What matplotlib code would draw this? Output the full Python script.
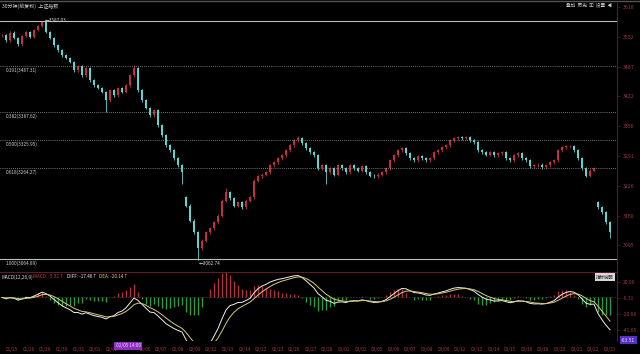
import numpy as np
import pandas as pd
import matplotlib
matplotlib.use('Agg')
import matplotlib.pyplot as plt

plt.rcParams['font.family'] = ['Noto Sans CJK SC', 'DejaVu Sans']

# closes (about one hour of trading per entry)
closes = [
    3556, 3545, 3561, 3550, 3536, 3554, 3563, 3552, 3567, 3576,
    3585, 3563, 3550, 3534, 3523, 3512, 3506, 3497, 3479, 3488,
    3468, 3484, 3457, 3446, 3440, 3431, 3413, 3435, 3424, 3440,
    3431, 3446, 3468, 3484, 3435, 3413, 3396, 3380, 3391, 3358,
    3336, 3314, 3303, 3286, 3270, 3255, 3182, 3149, 3123, 3088,
    3105, 3123, 3132, 3145, 3160, 3193, 3211, 3198, 3182, 3189,
    3178, 3193, 3200, 3237, 3246, 3250, 3255, 3270, 3277, 3286,
    3292, 3303, 3314, 3325, 3330, 3319, 3308, 3299, 3292, 3264,
    3270, 3255, 3264, 3250, 3270, 3264, 3255, 3270, 3264, 3259,
    3268, 3255, 3248, 3246, 3250, 3255, 3264, 3281, 3292, 3303,
    3308, 3297, 3286, 3281, 3290, 3286, 3281, 3286, 3299, 3303,
    3310, 3314, 3325, 3330, 3332, 3330, 3332, 3325, 3321, 3303,
    3299, 3294, 3299, 3292, 3297, 3299, 3286, 3281, 3292, 3297,
    3286, 3281, 3268, 3270, 3272, 3266, 3270, 3277, 3281, 3303,
    3310, 3312, 3312, 3303, 3286, 3264, 3248, 3259, 3264, 3178,
    3167, 3145, 3123,
]
gap_opens = {46: 3200, 149: 3190}
high_marks = {10: 3587.03, 33: 3490, 56: 3220, 74: 3334}
low_marks = {26: 3387, 45: 3230, 49: 3062.74, 81: 3230, 146: 3244, 152: 3110}

peak_val = 3587.03
trough_val = 3062.74
fib_labels = ['0.191(3487.31)', '0.382(3387.62)', '0.500(3325.95)', '0.618(3264.27)']
fib_values = [3487.31, 3387.62, 3325.95, 3264.27]
bottom_label = '1.000(3064.89)'
bottom_value = 3064.89

price_ticks = [3618, 3552, 3487, 3422, 3356, 3291, 3226, 3160, 3095]
macd_ticks = [20.06, -0.31, -20.68, -41.05]

dates = ['01/25', '01/26', '01/29', '01/30', '01/31', '02/01', '02/02', '02/05',
         '02/06', '02/07', '02/08', '02/09', '02/12', '02/13', '02/14', '02/22',
         '02/23', '02/26', '02/27', '02/28', '03/01', '03/02', '03/05', '03/06',
         '03/07', '03/08', '03/09', '03/12', '03/13', '03/14', '03/15', '03/16',
         '03/19', '03/20', '03/21', '03/22', '03/23']

# ---- derived series ----
c = np.array(closes, dtype=float)
n = len(c)
o = np.r_[c[0], c[:-1]]
for k, v in gap_opens.items():
    o[k] = v
hi = np.maximum(o, c) + 3
lo = np.minimum(o, c) - 3
for k, v in high_marks.items():
    hi[k] = v
for k, v in low_marks.items():
    lo[k] = v

# MACD(12,26,9) on half-hour bars -> halved spans on these hourly entries
s = pd.Series(c)
diff = s.ewm(span=6, adjust=False).mean() - s.ewm(span=13, adjust=False).mean()
dea = diff.ewm(span=4.5, adjust=False).mean()
hist = 2 * (diff - dea)

# ---- layout ----
W, H = 640, 354
def rect(x0, y0, x1, y1):
    return [x0 / W, 1 - y1 / H, (x1 - x0) / W, (y1 - y0) / H]

fig = plt.figure(figsize=(6.4, 3.54), dpi=100, facecolor='black')
ax = fig.add_axes(rect(0, 3, 617, 271), facecolor='black')
axm = fig.add_axes(rect(0, 272, 617, 341), facecolor='black')

x = np.arange(n)
xlim = (-0.5, 153.75)
dark_red = '#5c1b25'
lab_red = '#a03848'

# candles
up_col, dn_col = '#c0303f', '#5fd4d2'
cols = np.where(c >= o, up_col, dn_col)
ax.vlines(x, lo, hi, colors=cols, lw=0.6)
body = np.maximum(np.abs(c - o), 1.2)
ax.bar(x, body, bottom=np.minimum(o, c), width=0.55, color=cols, lw=0)

# fibonacci levels
ax.axhline(peak_val, color='#bdbdbd', lw=0.8)
ax.axhline(bottom_value, color='#bdbdbd', lw=0.8)
for v, t in zip(fib_values, fib_labels):
    ax.axhline(v, color='#9a9a9a', lw=0.6, ls=(0, (1, 1.5)))
    ax.text(1, v - 3, t, color='#cfcfcf', fontsize=3.4, va='top', ha='left')
ax.text(1, bottom_value - 3, bottom_label, color='#cfcfcf', fontsize=3.4, va='top', ha='left')
ax.text(10.6, peak_val, '←' + f'{peak_val:.2f}', color='#d8d8d8', fontsize=3.4, va='center')
ax.text(49.3, trough_val - 2, '←' + f'{trough_val:.2f}', color='#d8d8d8', fontsize=3.4, va='top')

ax.set_xlim(*xlim)
ax.set_ylim(3038.5, 3626.5)
ax.yaxis.tick_right()
ax.set_yticks(price_ticks)
ax.set_yticklabels([str(v) for v in price_ticks])
ax.tick_params(axis='y', colors=dark_red, labelcolor=lab_red, labelsize=3.8, length=2, pad=2, width=0.5)
ax.set_xticks([])
for sp in ['top', 'left', 'bottom']:
    ax.spines[sp].set_visible(False)
ax.spines['right'].set_color(dark_red)
ax.spines['right'].set_linewidth(0.8)

# MACD panel
hcol = np.where(hist >= 0, '#b0303e', '#2f9a3c')
axm.vlines(x, 0, hist, colors=hcol, lw=1.0)
axm.axhline(0, color='#4a4a4a', lw=0.5, ls=(0, (2, 2)))
axm.plot(x, diff, color='#eeeeee', lw=0.7)
axm.plot(x, dea, color='#d9c978', lw=0.7)
axm.set_xlim(*xlim)
axm.set_ylim(-55.3, 32.4)
axm.yaxis.tick_right()
axm.set_yticks(macd_ticks)
axm.set_yticklabels([f'{v:.2f}' for v in macd_ticks])
axm.tick_params(axis='y', colors=dark_red, labelcolor=lab_red, labelsize=3.6, length=2, pad=2, width=0.5)
pos = [(12 + 16.6 * k - 2) / 4 for k in range(len(dates))]
axm.set_xticks(pos)
axm.set_xticklabels(dates)
axm.tick_params(axis='x', length=0, labelsize=3.4, labelcolor=lab_red, pad=4)
axm.get_xticklabels()[7].set_visible(False)
for sp in ['left', 'bottom']:
    axm.spines[sp].set_visible(False)
axm.spines['top'].set_color(dark_red)
axm.spines['right'].set_color(dark_red)
axm.spines['right'].set_linewidth(0.8)

# crosshair boxes
axm.text(pos[7], -61.5, '02/05 14:00', color='#f0d8ff', fontsize=3.4, ha='center', va='center',
         bbox=dict(boxstyle='square,pad=0.3', fc='#8a2fc0', ec='none'), clip_on=False)
fig.text(621 / W, 1 - 340 / H, '-63.51', color='#e8e0ff', fontsize=3.6, va='center', ha='left',
         bbox=dict(boxstyle='square,pad=0.3', fc='#5531c8', ec='none'))

# header texts
fig.text(2 / W, 1 - 6 / H, '30分钟(前复权)  上证指数', color='#d0d0d0', fontsize=3.6, va='center')
fig.text(612 / W, 1 - 5 / H, '叠加  历史  ▣  设置  ◀', color='#c8c8c8', fontsize=3.4, va='center', ha='right')
fig.lines.append(plt.Line2D([0, 1], [1 - 0.8 / H, 1 - 0.8 / H], transform=fig.transFigure, color='#555555', lw=1))
hy = 1 - 277 / H
fig.text(1 / W, hy, 'MACD(12,26,9)', color='#d8d8d8', fontsize=3.4, va='center')
fig.text(33 / W, hy, 'MACD: -5.32↑', color='#d03848', fontsize=3.4, va='center')
fig.text(67 / W, hy, 'DIFF: -17.46↑', color='#e8e8e8', fontsize=3.4, va='center')
fig.text(99 / W, hy, 'DEA: -20.14↑', color='#e0cf7a', fontsize=3.4, va='center')
fig.text(605 / W, 1 - 277 / H, '指标说明', color='#222222', fontsize=3.2, va='center', ha='center',
         bbox=dict(boxstyle='square,pad=0.25', fc='#d8d8d8', ec='none'))

fig.savefig('out.png', dpi=100, facecolor='black')
